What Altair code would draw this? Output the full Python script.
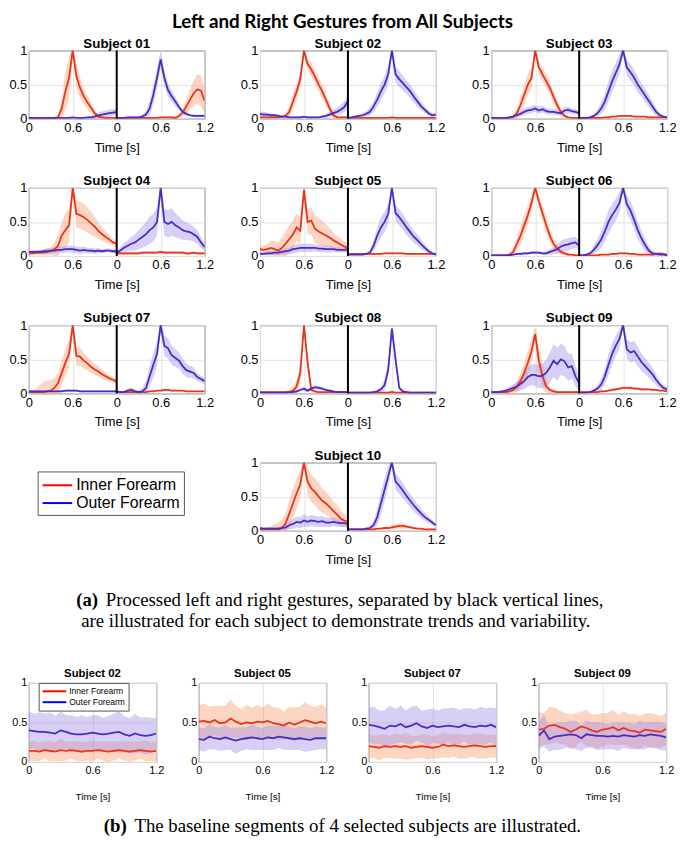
import altair as alt
import pandas as pd

# ---------------------------------------------------------------- data
TIME = [0.0, 0.05, 0.1, 0.15, 0.2, 0.25, 0.3, 0.35, 0.4, 0.45, 0.5, 0.55, 0.6,
        0.65, 0.7, 0.75, 0.8, 0.85, 0.9, 0.95, 1.0, 1.05, 1.1, 1.15, 1.2]
SEPARATOR = [1.2]
CHANNELS = ["Inner Forearm", "Outer Forearm"]
X_TICKS = [0, 0.6, 1.2, 1.8, 2.4]
X_TICK_LABELS = ["0", "0.6", "0", "0.6", "1.2"]
Y_TICKS = [0, 0.5, 1]
B_X_TICKS = [0, 0.6, 1.2]

# ---- Subject 01
S01_L_IN = [0.01,0.01,0.01,0.01,0.01,0.01,0.01,0.01,0.02,0.15,0.4,0.6,1.0,0.62,0.45,0.33,0.24,0.16,0.08,0.03,0.02,0.01,0.01,0.01,0.01]
S01_L_IN_SD = [0.01,0.01,0.01,0.01,0.01,0.01,0.01,0.01,0.04,0.15,0.28,0.3,0.08,0.18,0.15,0.12,0.1,0.08,0.05,0.03,0.02,0.01,0.01,0.01,0.01]
S01_L_OUT = [0.01,0.01,0.01,0.01,0.01,0.01,0.01,0.01,0.01,0.01,0.01,0.01,0.02,0.01,0.01,0.01,0.02,0.02,0.03,0.05,0.06,0.07,0.08,0.09,0.1]
S01_L_OUT_SD = [0.01,0.01,0.01,0.01,0.01,0.01,0.01,0.01,0.01,0.01,0.01,0.01,0.01,0.01,0.01,0.01,0.01,0.02,0.03,0.04,0.05,0.05,0.05,0.05,0.04]
S01_R_IN = [0.01,0.01,0.01,0.01,0.01,0.01,0.01,0.01,0.01,0.01,0.01,0.01,0.02,0.02,0.02,0.02,0.01,0.04,0.09,0.18,0.28,0.37,0.43,0.41,0.26]
S01_R_IN_SD = [0.01,0.01,0.01,0.01,0.01,0.01,0.01,0.01,0.01,0.01,0.01,0.01,0.01,0.01,0.01,0.01,0.02,0.03,0.06,0.1,0.15,0.19,0.22,0.22,0.2]
S01_R_OUT = [0.01,0.01,0.01,0.02,0.02,0.02,0.02,0.03,0.06,0.15,0.35,0.6,0.87,0.6,0.42,0.33,0.25,0.17,0.1,0.07,0.05,0.04,0.04,0.04,0.04]
S01_R_OUT_SD = [0.01,0.01,0.01,0.01,0.01,0.01,0.02,0.03,0.05,0.1,0.14,0.15,0.12,0.12,0.1,0.08,0.07,0.05,0.04,0.03,0.02,0.02,0.02,0.02,0.02]

# ---- Subject 02
S02_L_IN = [0.02,0.02,0.02,0.02,0.02,0.02,0.03,0.04,0.1,0.25,0.4,0.58,1.0,0.8,0.72,0.62,0.5,0.4,0.28,0.15,0.05,0.02,0.02,0.02,0.02]
S02_L_IN_SD = [0.01,0.01,0.01,0.01,0.01,0.01,0.02,0.04,0.08,0.12,0.12,0.12,0.05,0.08,0.1,0.1,0.1,0.1,0.09,0.07,0.04,0.02,0.01,0.01,0.01]
S02_L_OUT = [0.07,0.06,0.06,0.05,0.05,0.04,0.03,0.03,0.02,0.02,0.02,0.02,0.03,0.02,0.02,0.02,0.02,0.03,0.04,0.06,0.08,0.1,0.13,0.17,0.26]
S02_L_OUT_SD = [0.04,0.04,0.03,0.03,0.02,0.02,0.01,0.01,0.01,0.01,0.01,0.01,0.01,0.01,0.01,0.01,0.01,0.02,0.03,0.04,0.05,0.06,0.07,0.08,0.1]
S02_R_IN = [0.01,0.01,0.01,0.01,0.01,0.01,0.01,0.01,0.01,0.01,0.01,0.01,0.02,0.01,0.01,0.01,0.01,0.01,0.01,0.01,0.01,0.01,0.01,0.01,0.01]
S02_R_IN_SD = [0.01,0.01,0.01,0.01,0.01,0.01,0.01,0.01,0.01,0.01,0.01,0.01,0.01,0.01,0.01,0.01,0.01,0.01,0.01,0.01,0.01,0.01,0.01,0.01,0.01]
S02_R_OUT = [0.01,0.02,0.03,0.04,0.05,0.07,0.1,0.18,0.28,0.4,0.5,0.65,1.0,0.65,0.58,0.52,0.46,0.4,0.32,0.25,0.18,0.13,0.08,0.05,0.06]
S02_R_OUT_SD = [0.01,0.01,0.02,0.02,0.03,0.04,0.06,0.08,0.1,0.12,0.13,0.14,0.05,0.12,0.12,0.11,0.1,0.1,0.09,0.08,0.06,0.05,0.04,0.03,0.03]

# ---- Subject 03
S03_L_IN = [0.01,0.01,0.01,0.01,0.01,0.01,0.03,0.08,0.2,0.35,0.5,0.6,1.0,0.75,0.65,0.55,0.45,0.32,0.2,0.1,0.04,0.02,0.01,0.01,0.01]
S03_L_IN_SD = [0.01,0.01,0.01,0.01,0.01,0.02,0.04,0.07,0.12,0.14,0.15,0.15,0.05,0.1,0.1,0.1,0.1,0.09,0.07,0.05,0.03,0.01,0.01,0.01,0.01]
S03_L_OUT = [0.01,0.01,0.01,0.01,0.01,0.02,0.03,0.05,0.07,0.1,0.12,0.13,0.15,0.12,0.14,0.11,0.1,0.1,0.09,0.08,0.12,0.13,0.11,0.1,0.08]
S03_L_OUT_SD = [0.01,0.01,0.01,0.01,0.01,0.01,0.02,0.03,0.04,0.05,0.05,0.05,0.05,0.05,0.05,0.05,0.04,0.04,0.04,0.04,0.05,0.05,0.04,0.04,0.03]
S03_R_IN = [0.01,0.01,0.01,0.01,0.01,0.01,0.01,0.02,0.02,0.03,0.03,0.04,0.04,0.04,0.04,0.03,0.03,0.03,0.03,0.02,0.02,0.02,0.02,0.02,0.02]
S03_R_IN_SD = [0.01,0.01,0.01,0.01,0.01,0.01,0.01,0.01,0.01,0.01,0.01,0.01,0.01,0.01,0.01,0.01,0.01,0.01,0.01,0.01,0.01,0.01,0.01,0.01,0.01]
S03_R_OUT = [0.01,0.01,0.01,0.02,0.04,0.08,0.15,0.25,0.4,0.55,0.67,0.8,1.0,0.75,0.68,0.6,0.5,0.42,0.34,0.26,0.18,0.1,0.05,0.03,0.02]
S03_R_OUT_SD = [0.01,0.01,0.01,0.02,0.03,0.05,0.08,0.12,0.15,0.16,0.15,0.14,0.05,0.12,0.12,0.12,0.11,0.1,0.1,0.09,0.08,0.06,0.04,0.02,0.01]

# ---- Subject 04
S04_L_IN = [0.04,0.04,0.05,0.05,0.05,0.06,0.07,0.1,0.15,0.3,0.38,0.45,1.0,0.62,0.6,0.57,0.53,0.48,0.43,0.37,0.32,0.28,0.24,0.2,0.18]
S04_L_IN_SD = [0.02,0.02,0.03,0.03,0.04,0.05,0.06,0.1,0.15,0.2,0.25,0.25,0.1,0.2,0.2,0.2,0.18,0.17,0.15,0.12,0.1,0.08,0.06,0.05,0.04]
S04_L_OUT = [0.06,0.06,0.06,0.06,0.07,0.07,0.08,0.08,0.09,0.09,0.1,0.1,0.1,0.09,0.08,0.09,0.08,0.08,0.07,0.08,0.07,0.08,0.08,0.07,0.07]
S04_L_OUT_SD = [0.03,0.03,0.03,0.03,0.03,0.04,0.04,0.04,0.05,0.05,0.05,0.05,0.05,0.05,0.05,0.05,0.04,0.04,0.04,0.04,0.03,0.03,0.03,0.03,0.03]
S04_R_IN = [0.04,0.04,0.04,0.04,0.04,0.04,0.04,0.05,0.05,0.05,0.05,0.05,0.06,0.05,0.05,0.05,0.05,0.05,0.05,0.04,0.04,0.05,0.04,0.04,0.04]
S04_R_IN_SD = [0.02,0.02,0.02,0.02,0.02,0.02,0.02,0.02,0.02,0.02,0.02,0.02,0.02,0.02,0.02,0.02,0.02,0.02,0.02,0.02,0.02,0.02,0.02,0.02,0.02]
S04_R_OUT = [0.05,0.08,0.12,0.15,0.18,0.2,0.24,0.28,0.32,0.38,0.42,0.5,1.0,0.5,0.47,0.5,0.45,0.42,0.38,0.36,0.35,0.32,0.28,0.2,0.13]
S04_R_OUT_SD = [0.03,0.05,0.07,0.08,0.1,0.12,0.14,0.16,0.18,0.2,0.2,0.2,0.1,0.2,0.2,0.2,0.18,0.16,0.14,0.13,0.12,0.11,0.1,0.08,0.06]

# ---- Subject 05
S05_L_IN = [0.1,0.09,0.1,0.12,0.1,0.08,0.12,0.18,0.25,0.32,0.42,0.37,0.97,0.5,0.52,0.4,0.36,0.33,0.3,0.27,0.23,0.2,0.17,0.14,0.12]
S05_L_IN_SD = [0.05,0.06,0.08,0.1,0.12,0.12,0.15,0.18,0.2,0.2,0.2,0.2,0.1,0.18,0.2,0.2,0.2,0.18,0.16,0.14,0.12,0.1,0.09,0.08,0.07]
S05_L_OUT = [0.03,0.03,0.04,0.04,0.05,0.05,0.06,0.07,0.08,0.1,0.11,0.12,0.12,0.12,0.12,0.12,0.11,0.11,0.1,0.1,0.1,0.09,0.09,0.09,0.1]
S05_L_OUT_SD = [0.02,0.02,0.03,0.03,0.03,0.04,0.04,0.05,0.05,0.06,0.06,0.06,0.06,0.06,0.06,0.05,0.05,0.05,0.05,0.05,0.04,0.04,0.04,0.04,0.04]
S05_R_IN = [0.03,0.03,0.03,0.03,0.03,0.03,0.03,0.03,0.03,0.03,0.04,0.04,0.04,0.04,0.04,0.04,0.03,0.03,0.03,0.03,0.03,0.03,0.03,0.03,0.03]
S05_R_IN_SD = [0.01,0.01,0.01,0.01,0.01,0.01,0.01,0.01,0.01,0.01,0.01,0.01,0.01,0.01,0.01,0.01,0.01,0.01,0.01,0.01,0.01,0.01,0.01,0.01,0.01]
S05_R_OUT = [0.02,0.02,0.02,0.02,0.02,0.03,0.05,0.15,0.3,0.42,0.5,0.62,1.0,0.63,0.57,0.5,0.42,0.35,0.28,0.23,0.17,0.12,0.07,0.04,0.02]
S05_R_OUT_SD = [0.01,0.01,0.01,0.01,0.01,0.02,0.04,0.08,0.12,0.15,0.15,0.15,0.05,0.12,0.12,0.12,0.11,0.1,0.09,0.08,0.07,0.05,0.04,0.03,0.02]

# ---- Subject 06
S06_L_IN = [0.01,0.01,0.01,0.01,0.01,0.02,0.06,0.18,0.3,0.45,0.6,0.78,1.0,0.8,0.63,0.45,0.3,0.18,0.11,0.06,0.04,0.02,0.02,0.01,0.01]
S06_L_IN_SD = [0.01,0.01,0.01,0.01,0.02,0.03,0.05,0.1,0.13,0.15,0.15,0.12,0.05,0.1,0.12,0.12,0.1,0.08,0.06,0.04,0.03,0.02,0.01,0.01,0.01]
S06_L_OUT = [0.01,0.01,0.01,0.01,0.01,0.01,0.02,0.03,0.03,0.04,0.04,0.05,0.05,0.05,0.04,0.04,0.06,0.08,0.1,0.14,0.16,0.17,0.19,0.2,0.15]
S06_L_OUT_SD = [0.01,0.01,0.01,0.01,0.01,0.01,0.01,0.01,0.02,0.02,0.02,0.02,0.02,0.02,0.02,0.03,0.04,0.05,0.07,0.08,0.09,0.09,0.09,0.08,0.07]
S06_R_IN = [0.01,0.01,0.01,0.01,0.01,0.01,0.02,0.02,0.02,0.03,0.03,0.04,0.04,0.04,0.03,0.03,0.02,0.02,0.02,0.02,0.02,0.03,0.04,0.03,0.02]
S06_R_IN_SD = [0.01,0.01,0.01,0.01,0.01,0.01,0.01,0.01,0.01,0.01,0.01,0.01,0.01,0.01,0.01,0.01,0.01,0.01,0.01,0.01,0.01,0.01,0.01,0.01,0.01]
S06_R_OUT = [0.01,0.01,0.02,0.04,0.09,0.16,0.24,0.36,0.5,0.6,0.68,0.78,1.0,0.76,0.67,0.53,0.38,0.26,0.16,0.08,0.04,0.03,0.02,0.02,0.01]
S06_R_OUT_SD = [0.01,0.01,0.02,0.03,0.06,0.09,0.12,0.15,0.17,0.17,0.16,0.15,0.05,0.13,0.14,0.14,0.13,0.11,0.09,0.06,0.04,0.03,0.02,0.01,0.01]

# ---- Subject 07
S07_L_IN = [0.02,0.02,0.02,0.02,0.02,0.03,0.04,0.08,0.15,0.3,0.45,0.58,1.0,0.55,0.54,0.48,0.44,0.39,0.35,0.32,0.28,0.25,0.22,0.2,0.17]
S07_L_IN_SD = [0.02,0.03,0.05,0.1,0.15,0.15,0.15,0.15,0.15,0.18,0.2,0.2,0.1,0.15,0.14,0.12,0.1,0.09,0.08,0.08,0.07,0.06,0.05,0.04,0.03]
S07_L_OUT = [0.03,0.03,0.03,0.03,0.03,0.03,0.03,0.03,0.03,0.03,0.04,0.04,0.04,0.04,0.03,0.03,0.03,0.03,0.03,0.03,0.03,0.03,0.03,0.03,0.03]
S07_L_OUT_SD = [0.015,0.015,0.015,0.015,0.015,0.015,0.015,0.015,0.015,0.015,0.015,0.015,0.015,0.015,0.015,0.015,0.015,0.015,0.015,0.015,0.015,0.015,0.015,0.015,0.015]
S07_R_IN = [0.02,0.02,0.02,0.02,0.02,0.02,0.02,0.02,0.02,0.03,0.03,0.04,0.04,0.05,0.05,0.04,0.04,0.04,0.04,0.03,0.03,0.03,0.03,0.03,0.03]
S07_R_IN_SD = [0.01,0.01,0.01,0.01,0.01,0.01,0.01,0.01,0.01,0.01,0.01,0.01,0.01,0.01,0.01,0.01,0.01,0.01,0.01,0.01,0.01,0.01,0.01,0.01,0.01]
S07_R_OUT = [0.03,0.02,0.02,0.04,0.05,0.03,0.02,0.03,0.08,0.25,0.42,0.58,1.0,0.7,0.66,0.56,0.52,0.48,0.4,0.34,0.32,0.3,0.24,0.21,0.18]
S07_R_OUT_SD = [0.01,0.01,0.02,0.03,0.04,0.03,0.02,0.05,0.1,0.15,0.18,0.18,0.08,0.15,0.15,0.14,0.13,0.12,0.11,0.1,0.09,0.08,0.06,0.05,0.05]

# ---- Subject 08
S08_L_IN = [0.02,0.02,0.02,0.02,0.02,0.02,0.02,0.02,0.02,0.04,0.1,0.3,1.0,0.45,0.05,0.03,0.02,0.02,0.02,0.02,0.02,0.02,0.02,0.02,0.02]
S08_L_IN_SD = [0.01,0.01,0.01,0.01,0.01,0.01,0.01,0.02,0.04,0.06,0.1,0.15,0.05,0.15,0.04,0.02,0.01,0.01,0.01,0.01,0.01,0.01,0.01,0.01,0.01]
S08_L_OUT = [0.01,0.01,0.01,0.01,0.01,0.01,0.01,0.01,0.02,0.02,0.03,0.05,0.07,0.04,0.07,0.09,0.08,0.07,0.05,0.04,0.03,0.02,0.02,0.02,0.02]
S08_L_OUT_SD = [0.01,0.01,0.01,0.01,0.01,0.01,0.01,0.01,0.01,0.01,0.02,0.02,0.03,0.02,0.03,0.03,0.03,0.02,0.02,0.02,0.01,0.01,0.01,0.01,0.01]
S08_R_IN = [0.01,0.01,0.01,0.01,0.01,0.01,0.01,0.01,0.01,0.01,0.01,0.01,0.02,0.01,0.01,0.01,0.01,0.01,0.01,0.01,0.01,0.01,0.01,0.01,0.01]
S08_R_IN_SD = [0.01,0.01,0.01,0.01,0.01,0.01,0.01,0.01,0.01,0.01,0.01,0.01,0.01,0.01,0.01,0.01,0.01,0.01,0.01,0.01,0.01,0.01,0.01,0.01,0.01]
S08_R_OUT = [0.01,0.01,0.01,0.01,0.01,0.01,0.01,0.02,0.03,0.06,0.12,0.35,0.95,0.5,0.08,0.03,0.02,0.01,0.01,0.01,0.01,0.01,0.01,0.01,0.01]
S08_R_OUT_SD = [0.01,0.01,0.01,0.01,0.01,0.01,0.01,0.01,0.02,0.04,0.08,0.12,0.05,0.12,0.04,0.02,0.01,0.01,0.01,0.01,0.01,0.01,0.01,0.01,0.01]

# ---- Subject 09
S09_L_IN = [0.02,0.02,0.02,0.02,0.02,0.03,0.05,0.1,0.18,0.3,0.45,0.62,0.87,0.48,0.25,0.1,0.05,0.03,0.02,0.02,0.02,0.02,0.02,0.02,0.02]
S09_L_IN_SD = [0.01,0.01,0.01,0.01,0.02,0.03,0.05,0.08,0.12,0.15,0.17,0.18,0.12,0.2,0.18,0.1,0.05,0.03,0.02,0.01,0.01,0.01,0.01,0.01,0.01]
S09_L_OUT = [0.02,0.02,0.02,0.03,0.04,0.06,0.08,0.1,0.14,0.18,0.24,0.27,0.27,0.25,0.26,0.3,0.38,0.48,0.43,0.5,0.47,0.38,0.4,0.25,0.15]
S09_L_OUT_SD = [0.01,0.01,0.02,0.02,0.03,0.04,0.05,0.07,0.09,0.12,0.14,0.15,0.16,0.17,0.18,0.2,0.22,0.24,0.24,0.23,0.22,0.2,0.18,0.15,0.12]
S09_R_IN = [0.02,0.02,0.02,0.02,0.02,0.02,0.03,0.03,0.04,0.05,0.06,0.07,0.08,0.08,0.08,0.07,0.07,0.06,0.06,0.06,0.05,0.05,0.04,0.04,0.03]
S09_R_IN_SD = [0.01,0.01,0.01,0.01,0.01,0.01,0.01,0.01,0.01,0.02,0.02,0.02,0.02,0.02,0.02,0.02,0.02,0.02,0.02,0.01,0.01,0.01,0.01,0.01,0.01]
S09_R_OUT = [0.01,0.01,0.01,0.02,0.04,0.07,0.13,0.25,0.42,0.58,0.7,0.8,1.0,0.65,0.6,0.62,0.54,0.46,0.4,0.34,0.28,0.2,0.13,0.08,0.06]
S09_R_OUT_SD = [0.01,0.01,0.01,0.02,0.03,0.05,0.08,0.12,0.15,0.16,0.15,0.14,0.05,0.14,0.15,0.15,0.14,0.13,0.12,0.11,0.1,0.08,0.06,0.04,0.03]

# ---- Subject 10
S10_L_IN = [0.02,0.02,0.02,0.02,0.02,0.02,0.04,0.11,0.25,0.4,0.55,0.68,1.0,0.72,0.62,0.57,0.5,0.44,0.4,0.35,0.29,0.24,0.18,0.15,0.13]
S10_L_IN_SD = [0.02,0.02,0.03,0.05,0.08,0.1,0.12,0.15,0.2,0.22,0.22,0.2,0.1,0.2,0.2,0.2,0.2,0.18,0.17,0.16,0.15,0.14,0.12,0.1,0.08]
S10_L_OUT = [0.04,0.03,0.03,0.03,0.03,0.03,0.04,0.05,0.08,0.1,0.13,0.12,0.15,0.13,0.15,0.14,0.13,0.14,0.12,0.12,0.13,0.12,0.11,0.11,0.1]
S10_L_OUT_SD = [0.02,0.02,0.02,0.02,0.02,0.03,0.03,0.04,0.06,0.07,0.08,0.08,0.09,0.08,0.08,0.08,0.08,0.08,0.07,0.07,0.06,0.06,0.05,0.05,0.05]
S10_R_IN = [0.02,0.02,0.02,0.02,0.02,0.02,0.02,0.02,0.03,0.03,0.04,0.04,0.05,0.06,0.07,0.07,0.06,0.05,0.04,0.03,0.03,0.02,0.02,0.02,0.02]
S10_R_IN_SD = [0.01,0.01,0.01,0.01,0.01,0.01,0.01,0.01,0.01,0.01,0.02,0.02,0.03,0.04,0.04,0.04,0.03,0.02,0.02,0.01,0.01,0.01,0.01,0.01,0.01]
S10_R_OUT = [0.02,0.02,0.02,0.02,0.02,0.03,0.04,0.08,0.2,0.4,0.6,0.8,1.0,0.72,0.66,0.59,0.51,0.44,0.37,0.31,0.25,0.2,0.16,0.12,0.08]
S10_R_OUT_SD = [0.01,0.01,0.01,0.01,0.01,0.02,0.03,0.06,0.12,0.16,0.17,0.15,0.05,0.12,0.12,0.11,0.1,0.1,0.09,0.08,0.07,0.06,0.05,0.04,0.03]

# ---- baseline segments
B02_IN = [0.14,0.14,0.13,0.15,0.14,0.13,0.15,0.14,0.15,0.14,0.13,0.14,0.14,0.15,0.14,0.13,0.14,0.15,0.14,0.13,0.14,0.15,0.14,0.13,0.14]
B02_IN_SD = [0.12,0.13,0.12,0.11,0.13,0.12,0.14,0.12,0.11,0.13,0.12,0.12,0.13,0.11,0.12,0.13,0.12,0.11,0.12,0.13,0.12,0.11,0.13,0.12,0.12]
B02_OUT = [0.4,0.39,0.38,0.38,0.37,0.36,0.4,0.38,0.36,0.35,0.35,0.36,0.37,0.36,0.35,0.36,0.37,0.38,0.35,0.33,0.36,0.34,0.33,0.34,0.36]
B02_OUT_SD = [0.24,0.22,0.25,0.23,0.26,0.22,0.24,0.21,0.23,0.22,0.24,0.21,0.22,0.23,0.21,0.22,0.24,0.26,0.23,0.22,0.25,0.22,0.24,0.22,0.2]
B05_IN = [0.51,0.52,0.5,0.53,0.49,0.5,0.55,0.51,0.48,0.5,0.49,0.51,0.5,0.52,0.49,0.48,0.46,0.5,0.47,0.5,0.53,0.51,0.49,0.51,0.49]
B05_IN_SD = [0.2,0.22,0.2,0.18,0.22,0.21,0.24,0.2,0.19,0.22,0.2,0.21,0.19,0.22,0.2,0.21,0.18,0.2,0.22,0.2,0.23,0.2,0.21,0.22,0.2]
B05_OUT = [0.29,0.28,0.32,0.3,0.29,0.31,0.29,0.27,0.29,0.3,0.31,0.3,0.29,0.31,0.3,0.32,0.31,0.3,0.29,0.3,0.29,0.28,0.3,0.3,0.3]
B05_OUT_SD = [0.14,0.15,0.16,0.14,0.15,0.16,0.14,0.17,0.15,0.14,0.16,0.15,0.14,0.16,0.15,0.14,0.16,0.15,0.14,0.15,0.16,0.14,0.15,0.14,0.14]
B07_IN = [0.2,0.19,0.18,0.2,0.19,0.2,0.19,0.2,0.18,0.19,0.2,0.19,0.18,0.19,0.22,0.2,0.21,0.2,0.19,0.2,0.21,0.2,0.19,0.2,0.2]
B07_IN_SD = [0.15,0.14,0.16,0.15,0.14,0.16,0.15,0.17,0.15,0.14,0.15,0.16,0.14,0.15,0.16,0.15,0.14,0.16,0.15,0.14,0.15,0.16,0.15,0.14,0.15]
B07_OUT = [0.47,0.46,0.44,0.42,0.46,0.45,0.48,0.44,0.46,0.49,0.45,0.43,0.46,0.44,0.45,0.46,0.45,0.44,0.47,0.45,0.44,0.46,0.45,0.47,0.44]
B07_OUT_SD = [0.22,0.24,0.21,0.23,0.25,0.22,0.23,0.21,0.24,0.22,0.2,0.23,0.22,0.21,0.23,0.22,0.24,0.22,0.21,0.23,0.22,0.24,0.23,0.22,0.24]
B09_IN = [0.41,0.42,0.46,0.47,0.44,0.42,0.38,0.41,0.45,0.43,0.4,0.38,0.41,0.42,0.44,0.4,0.43,0.4,0.39,0.37,0.41,0.4,0.39,0.38,0.42]
B09_IN_SD = [0.22,0.2,0.24,0.22,0.21,0.2,0.22,0.21,0.19,0.23,0.2,0.22,0.21,0.2,0.22,0.19,0.21,0.2,0.22,0.21,0.2,0.22,0.21,0.2,0.21]
B09_OUT = [0.33,0.4,0.29,0.32,0.33,0.34,0.35,0.34,0.3,0.35,0.34,0.33,0.33,0.32,0.33,0.32,0.34,0.33,0.32,0.34,0.33,0.35,0.34,0.33,0.31]
B09_OUT_SD = [0.17,0.2,0.16,0.17,0.18,0.16,0.17,0.18,0.16,0.17,0.16,0.18,0.17,0.16,0.17,0.18,0.16,0.17,0.16,0.18,0.17,0.16,0.17,0.18,0.17]

MAIN_TITLE = "Left and Right Gestures from All Subjects"
CAPTION_A_LABEL = "(a)"
CAPTION_A_LINES = ["Processed left and right gestures, separated by black vertical lines,",
                   "are illustrated for each subject to demonstrate trends and variability."]
CAPTION_B_LABEL = "(b)"
CAPTION_B_LINE = "The baseline segments of 4 selected subjects are illustrated."

TOP_SUBJECTS = ["01", "02", "03", "04", "05", "06", "07", "08", "09", "10"]
BASE_SUBJECTS = ["02", "05", "07", "09"]

# ---------------------------------------------------------------- style
LINE_COLORS = ["#e8341c", "#4a2cc0"]
BAND_COLORS = ["#f89b70", "#a08dea"]
LEGEND_COLORS = ["#ff0000", "#0000ff"]
FONT = "Liberation Sans"
SERIF = "Liberation Serif"

G = globals()


def top_frame(sid):
    rows = []
    for side, off in (("L", 0.0), ("R", SEPARATOR[0])):
        for ch, key in zip(CHANNELS, ("IN", "OUT")):
            m = G[f"S{sid}_{side}_{key}"]
            s = G[f"S{sid}_{side}_{key}_SD"]
            assert len(m) == len(TIME) and len(s) == len(TIME), (sid, side, key)
            for t, mv, sv in zip(TIME, m, s):
                rows.append(dict(t=t + off, mean=mv, lo=mv - sv, hi=mv + sv,
                                 ch=ch, series=side + key))
    return pd.DataFrame(rows)


def base_frame(sid):
    rows = []
    for ch, key in zip(CHANNELS, ("IN", "OUT")):
        m = G[f"B{sid}_{key}"]
        s = G[f"B{sid}_{key}_SD"]
        assert len(m) == len(TIME) and len(s) == len(TIME), (sid, key)
        for t, mv, sv in zip(TIME, m, s):
            rows.append(dict(t=t, mean=mv, lo=mv - sv, hi=mv + sv, ch=ch, series=key))
    return pd.DataFrame(rows)


X_LABEL_EXPR = "[" + ",".join(f"'{s}'" for s in X_TICK_LABELS) + "][round(datum.value/0.6)]"

fill_scale = alt.Scale(domain=CHANNELS, range=BAND_COLORS)
stroke_scale = alt.Scale(domain=CHANNELS, range=LINE_COLORS)


def legend_layer(legend):
    return alt.Chart(pd.DataFrame({"label": CHANNELS})).mark_line(strokeWidth=2).encode(
        color=alt.Color("label:N", scale=alt.Scale(domain=CHANNELS, range=LEGEND_COLORS),
                        legend=legend))


def top_panel(sid):
    df = top_frame(sid)
    xs = alt.Scale(domain=[0, 2.4], nice=False, zero=False)
    ys = alt.Scale(domain=[0, 1], nice=False)
    xax = alt.Axis(values=X_TICKS, tickCount=5, labelExpr=X_LABEL_EXPR, title="Time [s]",
                   labelFontSize=13, titleFontSize=13, labelPadding=3, titlePadding=7,
                   labelFlush=False, labelOverlap=False)
    yax = alt.Axis(values=Y_TICKS, tickCount=5, format="~g", title=None, labelFontSize=13,
                   labelPadding=2, labelOverlap=False)
    base = alt.Chart(df)
    band = base.mark_area(clip=True, opacity=0.42).encode(
        x=alt.X("t:Q", scale=xs, axis=xax),
        y=alt.Y("lo:Q", scale=ys, axis=yax),
        y2="hi:Q",
        fill=alt.Fill("ch:N", scale=fill_scale, legend=None),
        detail="series:N")
    line = base.mark_line(clip=True, strokeWidth=1.8).encode(
        x="t:Q", y="mean:Q",
        stroke=alt.Stroke("ch:N", scale=stroke_scale, legend=None),
        detail="series:N")
    sep = alt.Chart(pd.DataFrame({"t": SEPARATOR})).mark_rule(
        color="black", strokeWidth=2).encode(x="t:Q")
    return alt.layer(band, line, sep).properties(
        width=178, height=69,
        title=alt.TitleParams(f"Subject {sid}", font=FONT, fontSize=13.5,
                              fontWeight="bold", offset=-5.5, color="black"))


def base_panel(sid, with_legend=False):
    df = base_frame(sid)
    xs = alt.Scale(domain=[0, 1.2], nice=False, zero=False)
    ys = alt.Scale(domain=[0, 1], nice=False)
    xax = alt.Axis(values=B_X_TICKS, tickCount=5, format="~g", title="Time [s]",
                   labelFontSize=11, titleFontSize=10, labelPadding=3, titlePadding=16,
                   labelFlush=False, labelOverlap=False)
    yax = alt.Axis(values=Y_TICKS, tickCount=5, format="~g", title=None, labelFontSize=11,
                   labelPadding=2, labelOverlap=False)
    base = alt.Chart(df)
    band = base.mark_area(clip=True, opacity=0.42).encode(
        x=alt.X("t:Q", scale=xs, axis=xax),
        y=alt.Y("lo:Q", scale=ys, axis=yax),
        y2="hi:Q",
        fill=alt.Fill("ch:N", scale=fill_scale, legend=None),
        detail="series:N")
    line = base.mark_line(clip=True, strokeWidth=1.8).encode(
        x="t:Q", y="mean:Q",
        stroke=alt.Stroke("ch:N", scale=stroke_scale, legend=None),
        detail="series:N")
    layers = [band, line]
    if with_legend:
        layers.append(legend_layer(alt.Legend(
            title=None, orient="none", legendX=10, legendY=0,
            symbolType="M-1,0H4.33", symbolSize=81, symbolStrokeWidth=2,
            labelFont=FONT, labelFontSize=8.6, labelOffset=17, labelLimit=200,
            padding=3, rowPadding=0, strokeColor="#555555", fillColor="white")))
    return alt.layer(*layers).properties(
        width=129, height=80,
        title=alt.TitleParams(f"Subject {sid}", font=FONT, fontSize=11.5,
                              fontWeight="bold", offset=-2.6, color="black"))


legend_cell = legend_layer(alt.Legend(
    title=None, orient="none", legendX=9, legendY=9,
    symbolType="M-1,0H2.33", symbolSize=324, symbolStrokeWidth=2,
    labelFont=FONT, labelFontSize=16, labelOffset=15, labelLimit=300,
    padding=4, rowPadding=0, strokeColor="#555555", fillColor="white")).properties(
    width=178, height=69, view=alt.ViewBackground(stroke="transparent"))

panels = [top_panel(s) for s in TOP_SUBJECTS]
grid_items = panels[:9] + [legend_cell, panels[9]]
grid = alt.concat(*grid_items, columns=3, bounds="flush",
                  spacing={"row": 70, "column": 56}).resolve_scale(
    color="independent").resolve_legend(color="independent")


def text_layer(txt, x, y, bold=False):
    return alt.Chart(pd.DataFrame({"txt": [txt]})).mark_text(
        align="left", baseline="middle", font=SERIF, fontSize=19,
        fontWeight="bold" if bold else "normal", color="black").encode(
        x=alt.value(x), y=alt.value(y), text="txt:N")


cap_a = alt.layer(
    text_layer(CAPTION_A_LABEL, 48, 32, bold=True),
    text_layer(CAPTION_A_LINES[0], 78, 32),
    text_layer(CAPTION_A_LINES[1], 53, 53),
).properties(width=630, height=99, view=alt.ViewBackground(stroke="transparent"))

bottom = alt.hconcat(*[base_panel(s, with_legend=(i == 0)) for i, s in enumerate(BASE_SUBJECTS)],
                     spacing=43, bounds="flush").resolve_scale(
    color="independent").resolve_legend(color="independent")

cap_b = alt.layer(
    text_layer(CAPTION_B_LABEL, 76, 23, bold=True),
    text_layer(CAPTION_B_LINE, 107, 23),
).properties(width=630, height=30, view=alt.ViewBackground(stroke="transparent"))

chart = alt.vconcat(grid, cap_a, bottom, cap_b, spacing=0).resolve_scale(
    color="independent").resolve_legend(color="independent").properties(
    padding=0,
    title=alt.TitleParams(MAIN_TITLE, font="Lato", fontSize=19, fontWeight="bold",
                          anchor="middle", offset=4, color="black"),
).configure_view(stroke="#555555", strokeWidth=1).configure_axis(
    labelFont=FONT, titleFont=FONT, labelColor="black", titleColor="black",
    titleFontWeight="normal", domain=False, ticks=False, tickSize=0,
    gridColor="#e2e2e2", gridWidth=1)

chart.save("out.html", embed_options={"renderer": "svg", "actions": False})
